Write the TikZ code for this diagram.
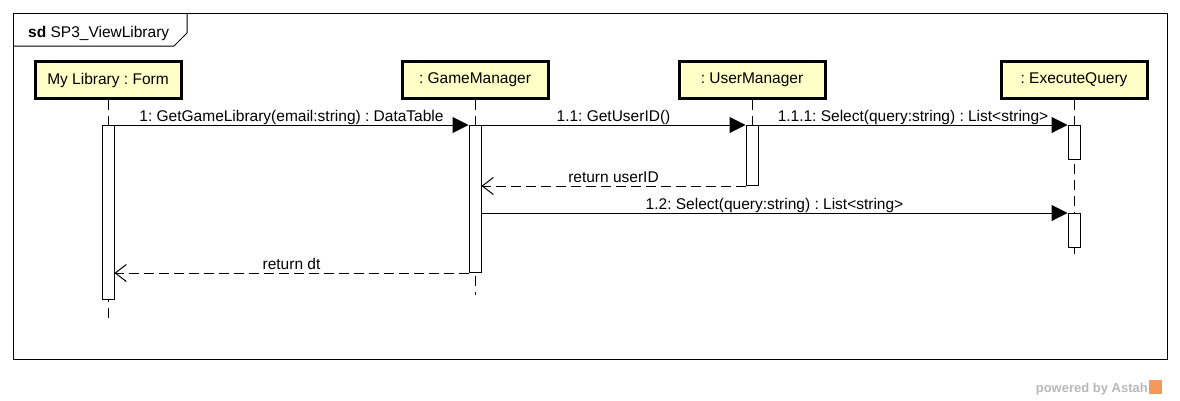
\documentclass[tikz,border=0pt]{standalone}
\usepackage{fontspec}
\setmainfont{Liberation Sans}
\usetikzlibrary{arrows.meta}
\definecolor{lyellow}{rgb}{1, 1, 0.78}
\definecolor{lgrey}{rgb}{0.72, 0.72, 0.72}
\definecolor{lorange}{rgb}{0.96, 0.6, 0.35}
\frenchspacing
\tikzset{
  lifebox/.style={draw, line width=3pt, fill=lyellow, minimum width=146pt, minimum height=37pt, inner sep=0pt, font=\fontsize{15.5}{18}\selectfont},
  actbar/.style={draw, fill=white, line width=1pt, minimum width=12pt, inner sep=0pt, anchor=north},
  lifeline/.style={line width=1pt, dash pattern=on 10pt off 6pt},
  call/.style={line width=1pt, -{Triangle[length=16pt, width=16pt]}},
  reply/.style={line width=1pt, dash pattern=on 10pt off 5pt, -{Straight Barb[length=11pt, width=17pt]}},
  msglabel/.style={anchor=base, yshift=4pt, inner sep=0pt, font=\fontsize{15.5}{18}\selectfont}
}

\begin{document}
\begin{tikzpicture}[x=1pt, y=-1pt]
  \useasboundingbox (0, 0) rectangle (1180, 400);
  \draw [line width=1pt] (13, 13) rectangle (1167, 359);
  \draw [line width=1pt] (13, 46) -- (174, 46) -- (187, 33) -- (187, 13);
  \node [anchor=base west, inner sep=0pt, font=\fontsize{15.5}{18}\selectfont] (sdlabel) at (28, 37) {\textbf{sd} SP3\_ViewLibrary};

  \node [lifebox] (form) at (108, 80) {My Library : Form};
  \node [lifebox] (game) at (475, 80) {: GameManager};
  \node [lifebox] (user) at (752, 80) {: UserManager};
  \node [lifebox] (query) at (1074, 80) {: ExecuteQuery};

  \coordinate (formend) at (108, 320);
  \coordinate (gameend) at (475, 295);
  \coordinate (userend) at (752, 186);
  \coordinate (queryend) at (1074, 260);
  \draw [lifeline] (form.south) -- (formend);
  \draw [lifeline] (game.south) -- (gameend);
  \draw [lifeline] (user.south) -- (userend);
  \draw [lifeline] (query.south) -- (queryend);

  \node [actbar, minimum height=174pt] (formact) at (108, 125) {};
  \node [actbar, minimum height=147pt] (gameact) at (475, 125) {};
  \node [actbar, minimum height=60pt] (useract) at (752, 125) {};
  \node [actbar, minimum height=34pt] (queryact) at (1074, 125) {};
  \node [actbar, minimum height=34pt] (queryactb) at (1074, 213) {};

  \draw [call] (formact.north east) -- (gameact.north west)
    node [msglabel, midway] {1: GetGameLibrary(email:string) : DataTable};
  \draw [call] (gameact.north east) -- (useract.north west)
    node [msglabel, midway] {1.1: GetUserID()};
  \draw [call] (useract.north east) -- (queryact.north west)
    node [msglabel, midway] {1.1.1: Select(query:string) : List<string>};
  \draw [reply] (useract.south west) -- (useract.south west -| gameact.east)
    node [msglabel, midway] {return userID};
  \draw [call] (queryactb.north west -| gameact.east) -- (queryactb.north west)
    node [msglabel, midway] {1.2: Select(query:string) : List<string>};
  \draw [reply] (gameact.south west) -- (gameact.south west -| formact.east)
    node [msglabel, midway] {return dt};

  \node [anchor=base east, inner sep=0pt, text=lgrey, font=\bfseries\fontsize{13}{15}\selectfont] (astah) at (1148, 392) {powered by Astah};
  \fill [lorange] (1149, 380) rectangle (1162, 394);
\end{tikzpicture}
\end{document}
